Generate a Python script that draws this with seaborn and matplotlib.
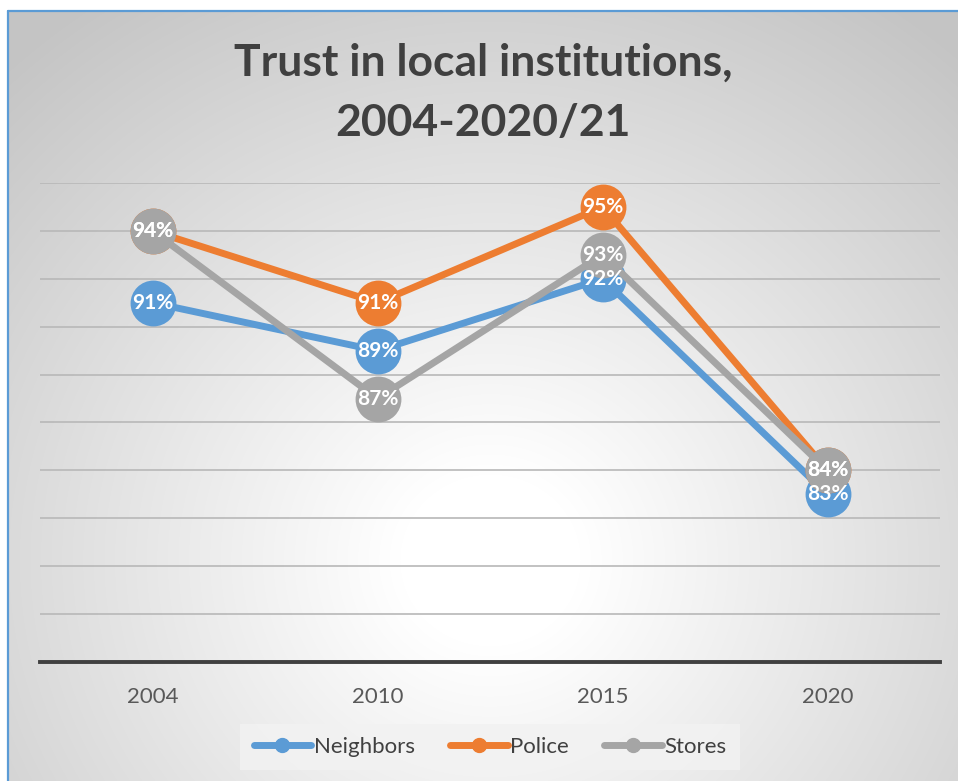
import seaborn as sns
import matplotlib.pyplot as plt
import numpy as np
import pandas as pd
from matplotlib.lines import Line2D

years = ["2004", "2010", "2015", "2020"]
neighbors = [91, 89, 92, 83]
police = [94, 91, 95, 84]
stores = [94, 87, 93, 84]
series = ["Neighbors", "Police", "Stores"]
colors = ["#5B9BD5", "#ED7D31", "#A5A5A5"]

df = pd.DataFrame({
    "year": years * 3,
    "value": neighbors + police + stores,
    "series": ["Neighbors"] * 4 + ["Police"] * 4 + ["Stores"] * 4,
})
df["pos"] = df["year"].map({y: i for i, y in enumerate(years)})

sns.set_theme(style="white")
plt.rcParams['font.family'] = ['Lato', 'DejaVu Sans']

fig = plt.figure(figsize=(9.58, 7.81), dpi=100)

# radial gradient background
bg = fig.add_axes([0, 0, 1, 1], zorder=-10)
W, H = 958, 781
xx, yy = np.meshgrid(np.arange(W), np.arange(H))
r = np.sqrt((xx - 490) ** 2 + ((yy - 560) * 1.05) ** 2)
shade = 1 - 0.23 * np.clip((r - 90) / 620, 0, 1)
img = np.dstack([shade, shade, shade])
img[:11, :, :] = 1.0
img[:, :9, :] = 1.0
bg.imshow(img, extent=[0, W, H, 0], aspect="auto", interpolation="bilinear")
bg.set_xlim(0, W)
bg.set_ylim(H, 0)
bg.axis("off")
bg.plot([8.5, 8.5], [H, 10.5], color="#5B9BD5", lw=1.6)
bg.plot([8.5, W], [10.5, 10.5], color="#5B9BD5", lw=1.6)

ax = fig.add_axes([40 / W, 1 - 662 / H, 900 / W, (662 - 183) / H])
ax.set_facecolor("none")

sns.lineplot(data=df, x="pos", y="value", hue="series", palette=colors,
             hue_order=series, marker="o", markersize=33, lw=5,
             markeredgewidth=0, ax=ax, legend=False, zorder=3)

for s, vals in zip(series, [neighbors, police, stores]):
    for i, v in enumerate(vals):
        ax.text(i, v, f"{v}%", ha="center", va="center", color="white",
                fontsize=15, fontweight="bold", zorder=10)

ax.set_xlim(-0.5, 3.5)
ax.set_ylim(76, 96)
ax.set_yticks(np.arange(76, 97, 2))
ax.set_yticklabels([])
ax.tick_params(axis="y", length=0)
ax.yaxis.grid(True, color="#b8b8b8", lw=1.2)
ax.set_axisbelow(True)
ax.set_xticks(range(4))
ax.set_xticklabels(years, fontsize=16, color="#595959")
ax.tick_params(axis="x", length=0, pad=18)
ax.set_xlabel("")
ax.set_ylabel("")
for side in ["top", "right", "left"]:
    ax.spines[side].set_visible(False)
ax.spines["bottom"].set_color("#404040")
ax.spines["bottom"].set_linewidth(2.8)

fig.text(0.504, 0.945, "Trust in local institutions,\n2004-2020/21", ha="center",
         va="top", fontsize=32, fontweight="bold", color="#404040", linespacing=1.6)

handles = [Line2D([0], [0], color=c, lw=5, marker="o", markersize=10,
                  solid_capstyle="round") for c in colors]
leg = fig.legend(handles, series, loc="center", bbox_to_anchor=(490 / W, 1 - 747 / H),
                 ncol=3, frameon=True, fontsize=16, handlelength=2.6,
                 handletextpad=0.1, columnspacing=1.6, borderpad=0.6)
leg.get_frame().set_facecolor("#f2f2f2")
leg.get_frame().set_edgecolor("none")
leg.get_frame().set_alpha(0.85)
leg.get_frame().set_boxstyle("square", pad=0.0)
for t in leg.get_texts():
    t.set_color("#404040")

fig.savefig("out.png", dpi=100)
